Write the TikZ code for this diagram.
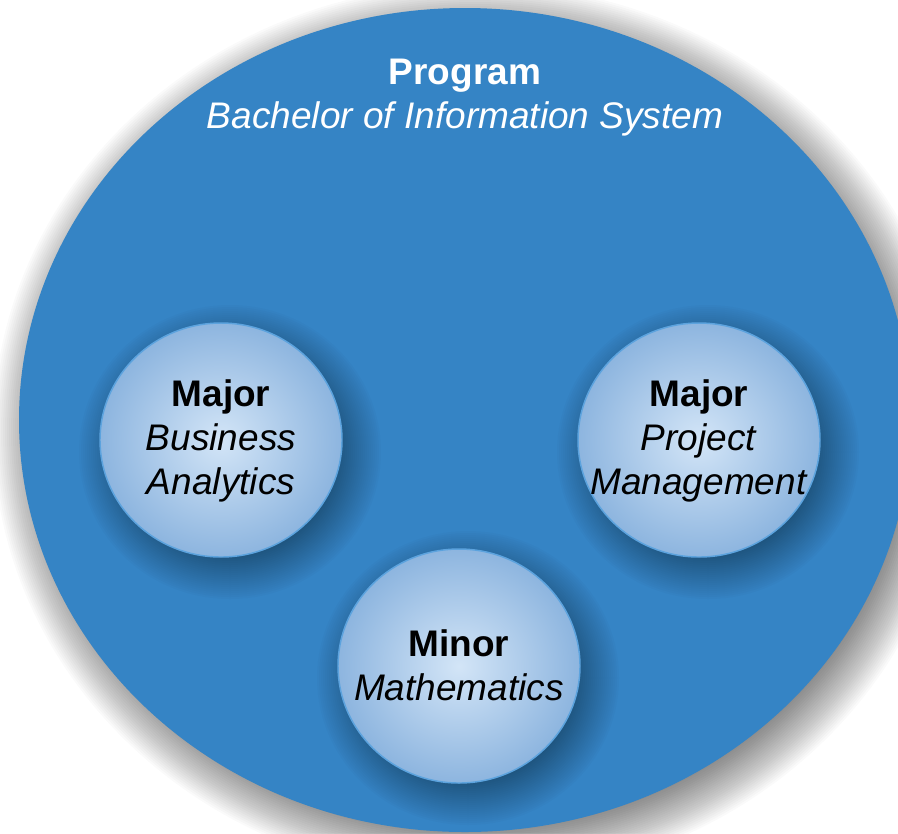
\documentclass[tikz,border=0pt]{standalone}
\usepackage{fontspec}
\setmainfont{Liberation Sans}
\definecolor{progblue}{HTML}{3584C5}
\definecolor{bubblein}{HTML}{D3E5F7}
\definecolor{bubbleout}{HTML}{8DB5DF}
\definecolor{rimblue}{HTML}{5CA3DE}

\begin{document}
\begin{tikzpicture}[x=0.75pt,y=-0.75pt,
    words/.style={align=center,inner sep=0pt,font=\fontsize{27.75}{33}\selectfont},
    bubble/.style={draw=rimblue,line width=1.1pt,inner color=bubblein,outer color=bubbleout}]
    \useasboundingbox (0,0) rectangle (898,833);
    \clip (0,0) rectangle (898,833);
    \fill[white] (0,0) rectangle (898,833);
    \coordinate (prog) at (465,420);
    \coordinate (ba) at (221,440);
    \coordinate (pm) at (699,440);
    \coordinate (mi) at (459,666);
    % big circle with its soft shadow
    \foreach \k in {0,...,25}
        \fill[black,opacity=0.018] ([shift={(10,12)}]prog) ellipse [x radius=432+2*\k, y radius=398+2*\k];
    \fill[progblue] (prog) ellipse [x radius=446, y radius=412];
    % small circles
    \foreach \c in {ba,pm,mi}
        \foreach \k in {0,...,21}
            \fill[black,opacity=0.017] ([shift={(9,12)}]\c) ellipse [x radius=109+2*\k, y radius=105+2*\k];
    \foreach \c in {ba,pm,mi}
        \draw[bubble] (\c) ellipse [x radius=121, y radius=117];
    \node[words,white] (progtext) at (465,98) {\textbf{Program}\\\textit{Bachelor of Information System}};
    \node[words] (batext) at (221,441) {\textbf{Major}\\\textit{Business}\\\textit{Analytics}};
    \node[words] (pmtext) at (699,441) {\textbf{Major}\\\textit{Project}\\\textit{Management}};
    \node[words] (mitext) at (459,665) {\textbf{Minor}\\\textit{Mathematics}};
\end{tikzpicture}
\end{document}
